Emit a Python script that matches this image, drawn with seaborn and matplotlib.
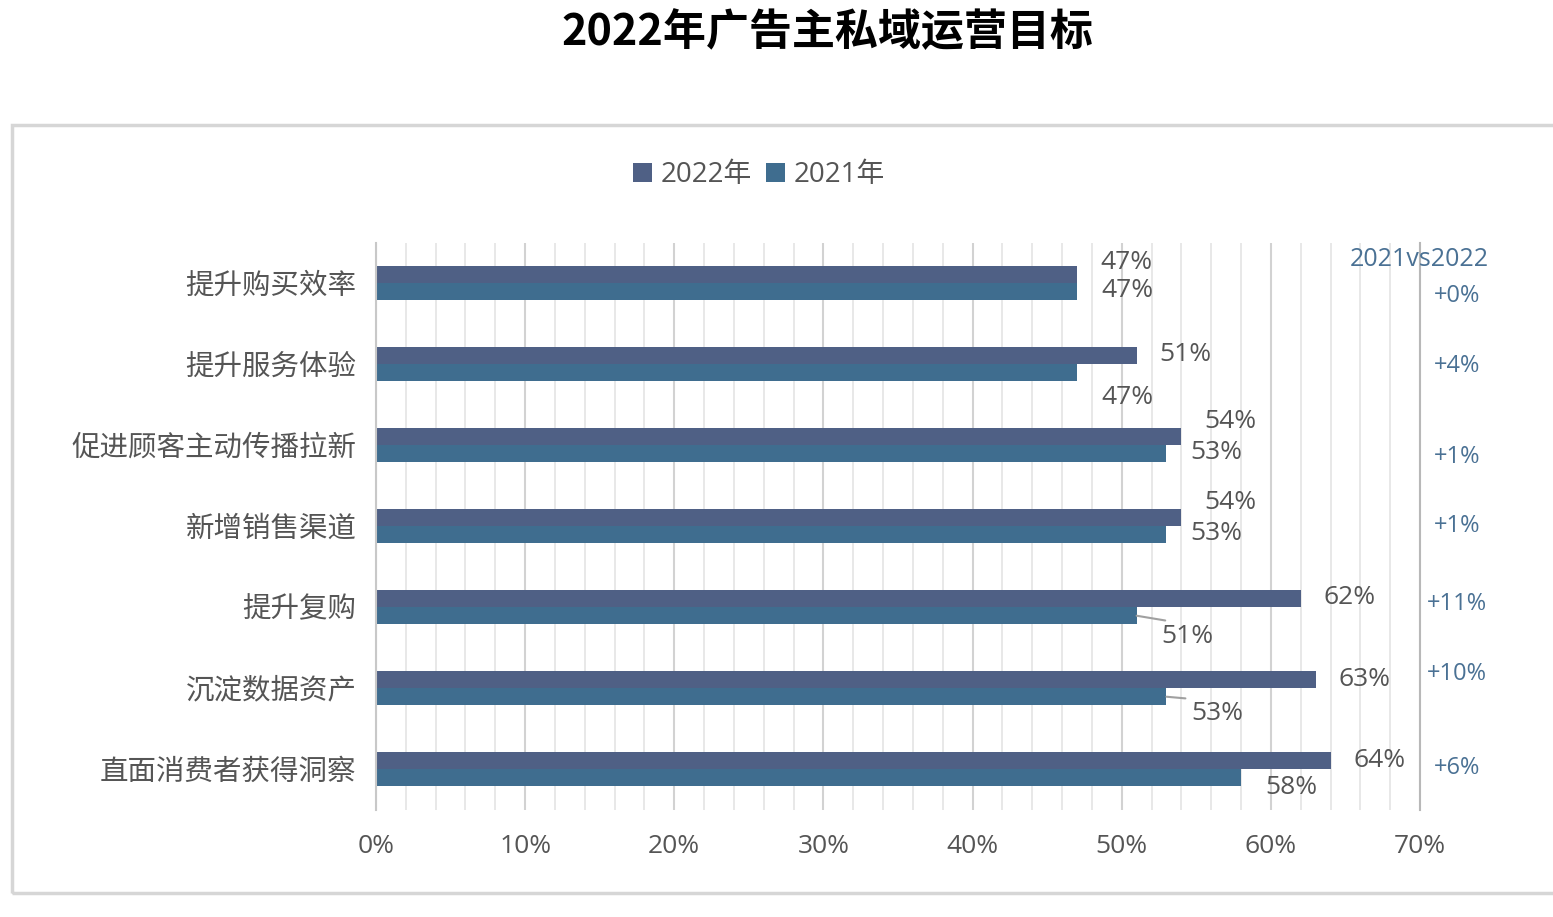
#!/usr/bin/env python3
"""2022 advertiser private-domain operation goals, horizontal grouped bars."""

import matplotlib
matplotlib.use("Agg")
import matplotlib.pyplot as plt
from matplotlib.patches import Rectangle
import pandas as pd
import seaborn as sns

CATEGORIES = [
    "提升购买效率",
    "提升服务体验",
    "促进顾客主动传播拉新",
    "新增销售渠道",
    "提升复购",
    "沉淀数据资产",
    "直面消费者获得洞察",
]
VALUES_2022 = [47, 51, 54, 54, 62, 63, 64]
VALUES_2021 = [47, 47, 53, 53, 51, 53, 58]
DIFF_LABELS = ["+0%", "+4%", "+1%", "+1%", "+11%", "+10%", "+6%"]
SERIES = ["2022年", "2021年"]
X_TICKS = [0, 10, 20, 30, 40, 50, 60, 70]

# label placement tweaks (pixels, up is positive) copied from the original layout
DY_2022 = [12, 1, 15, 15, 1, 0, 0]
DY_2021 = [1, -25, 1, 1, -21, -17, -10]
LEADER_2021 = [False, False, False, False, True, True, False]
DIFF_Y = [296, 366, 457, 526, 604, 674, 768]

COLORS = ["#4f6085", "#3f6d8f"]
TEXT = "#555555"
DIFF_COLOR = "#4a7194"

W, H = 1553, 917

sns.set_theme(style="white")
plt.rcParams["font.family"] = ["Open Sans", "Noto Sans CJK SC", "DejaVu Sans"]

df = pd.DataFrame({
    "category": CATEGORIES * 2,
    "value": VALUES_2022 + VALUES_2021,
    "year": [SERIES[0]] * len(CATEGORIES) + [SERIES[1]] * len(CATEGORIES),
})

fig = plt.figure(figsize=(W / 100, H / 100), dpi=100)
ax = fig.add_axes([376 / W, 1 - 810 / H, (1420 - 376) / W, (810 - 243) / H])

sns.barplot(
    data=df, y="category", x="value", hue="year", order=CATEGORIES,
    hue_order=SERIES, palette=COLORS, orient="h", width=0.43,
    saturation=1, ax=ax, legend=True, linewidth=0, edgecolor="none",
)

ax.set_xlim(0, 70)
ax.set_ylim(6.506, -0.494)
ax.set_xticks(X_TICKS)
ax.set_xticks(range(0, 71, 2), minor=True)
ax.set_xticklabels([f"{t}%" for t in X_TICKS], fontsize=19, color=TEXT)
ax.tick_params(axis="x", which="both", length=0, pad=17)
ax.tick_params(axis="y", length=0, pad=14, labelsize=20.5, labelcolor=TEXT)
ax.set_xlabel("")
ax.set_ylabel("")
ax.set_axisbelow(True)
ax.grid(which="minor", axis="x", color="#e6e6e6", lw=1.3)
ax.grid(which="major", axis="x", color="#d2d2d2", lw=1.5)
for side in ("top", "bottom"):
    ax.spines[side].set_visible(False)
ax.spines["left"].set_color("#c8c8c8")
ax.spines["left"].set_linewidth(1.5)
ax.spines["right"].set_color("#b8b8b8")
ax.spines["right"].set_linewidth(1.5)

# value labels
half = 0.43 / 4
for i, cat in enumerate(CATEGORIES):
    ax.annotate(f"{VALUES_2022[i]}%", xy=(VALUES_2022[i], i - half),
                xytext=(49, DY_2022[i]), textcoords="offset pixels",
                ha="center", va="center", fontsize=19, color=TEXT)
    if LEADER_2021[i]:
        ax.annotate(f"{VALUES_2021[i]}%", xy=(VALUES_2021[i], i + half),
                    xytext=(51, DY_2021[i]), textcoords="offset pixels",
                    ha="center", va="center", fontsize=19, color=TEXT,
                    arrowprops=dict(arrowstyle="-", color="#a0a0a0", lw=1.5,
                                    relpos=(0.5, 1.0), shrinkA=2, shrinkB=0))
    else:
        ax.annotate(f"{VALUES_2021[i]}%", xy=(VALUES_2021[i], i + half),
                    xytext=(50, DY_2021[i]), textcoords="offset pixels",
                    ha="center", va="center", fontsize=19, color=TEXT)

# difference column on the right
fig.text(1419 / W, 1 - 260 / H, "2021vs2022", ha="center", va="center",
         fontsize=18, color=DIFF_COLOR)
for lab, y in zip(DIFF_LABELS, DIFF_Y):
    fig.text(1457 / W, 1 - y / H, lab, ha="center", va="center",
             fontsize=17, color=DIFF_COLOR)

# legend
handles, labels = ax.get_legend_handles_labels()
ax.get_legend().remove()
fig.legend(handles, labels, loc="center", bbox_to_anchor=(759 / W, 1 - 175 / H),
           ncol=2, frameon=False, fontsize=20, handlelength=0.7,
           handleheight=0.7, handletextpad=0.3, columnspacing=0.5,
           labelcolor=TEXT)

# title and outer frame
fig.text(827 / W, 1 - 32 / H, "2022年广告主私域运营目标", ha="center",
         va="center", fontsize=31, fontweight="bold", color="black",
         family=["Noto Sans CJK SC", "DejaVu Sans"])
fig.patches.append(Rectangle((12 / W, 1 - 893 / H), 1.0, (893 - 125) / H,
                             transform=fig.transFigure, fill=False,
                             edgecolor="#d6d6d6", lw=2.5))

fig.savefig("out.png", dpi=100)
